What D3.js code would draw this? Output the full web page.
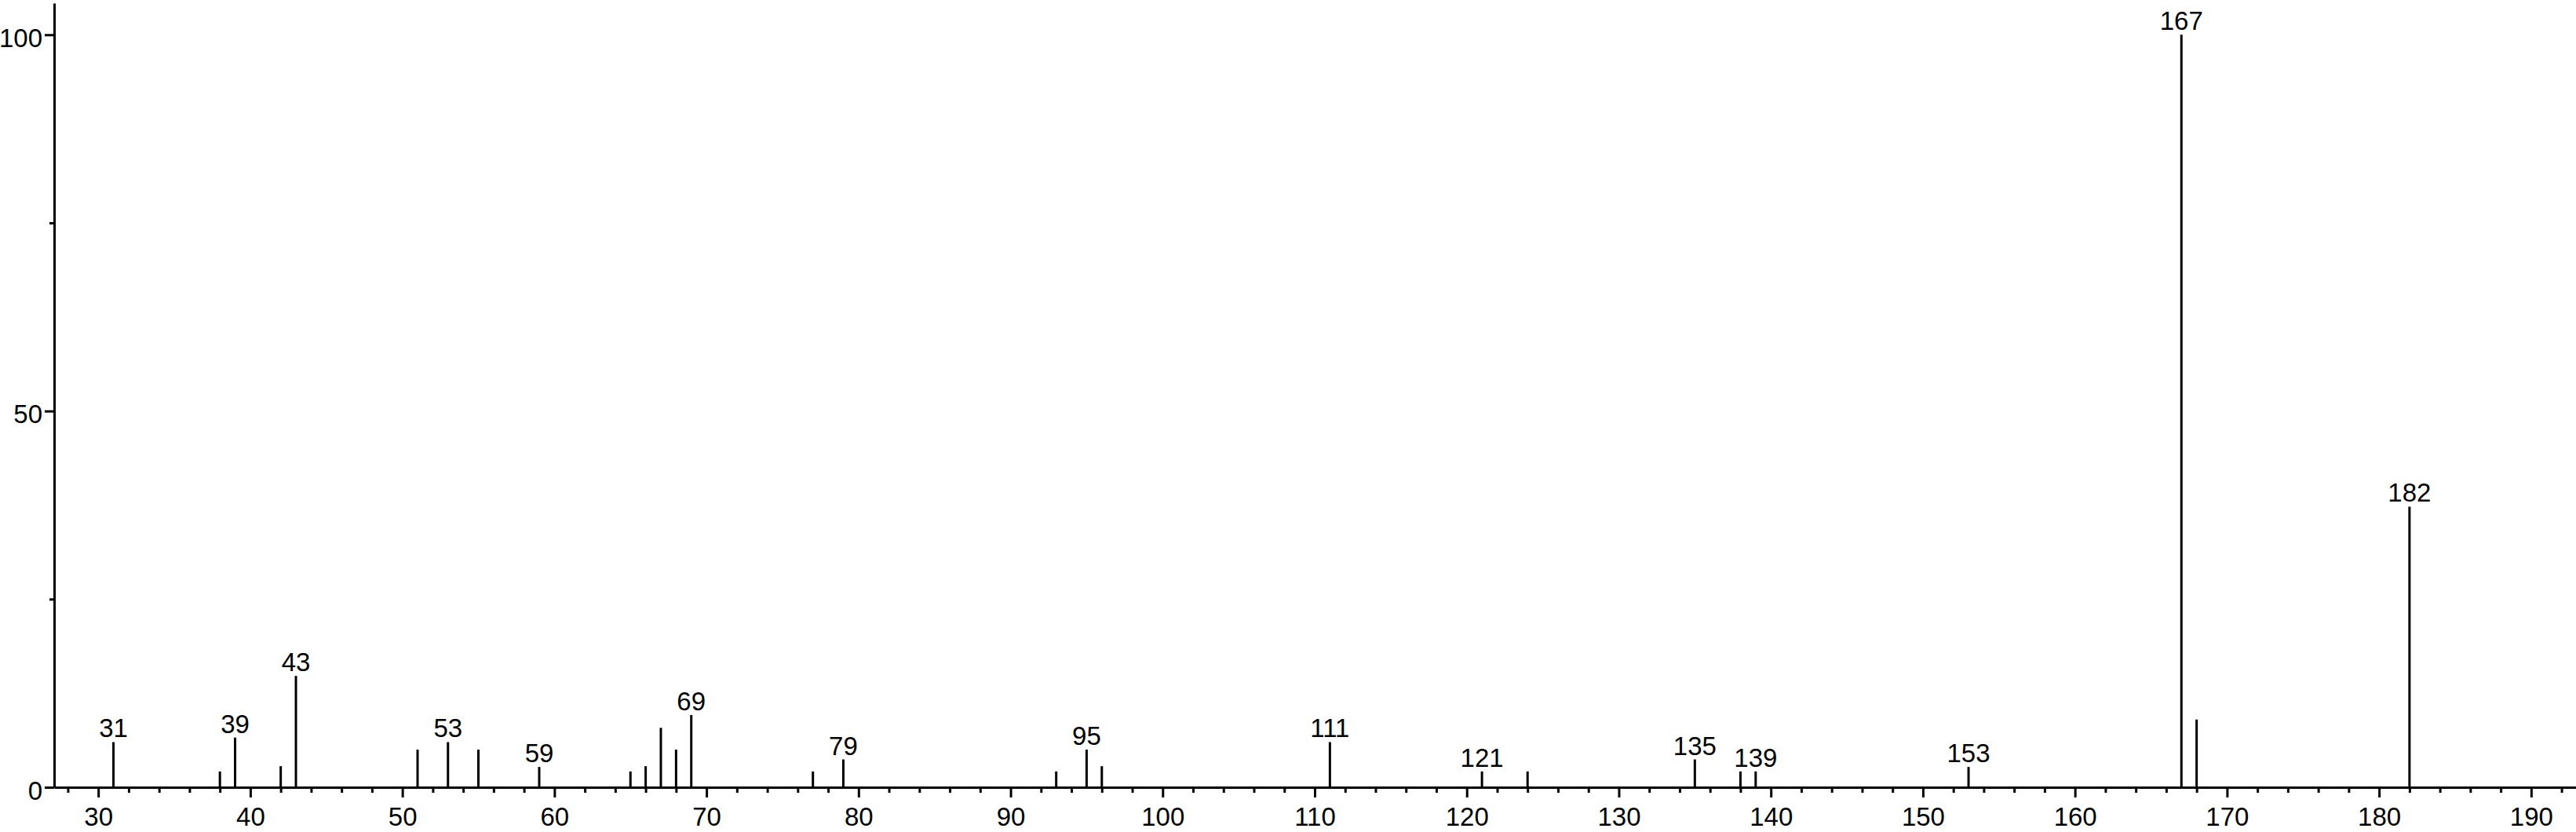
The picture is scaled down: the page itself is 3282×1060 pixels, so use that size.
<!DOCTYPE html>
<html>
<head>
<meta charset="utf-8">
<script src="https://cdn.jsdelivr.net/npm/d3@7"></script>
<style>
  body { margin: 0; background: #fff; }
  svg { display: block; font-family: "Liberation Sans", Arial, sans-serif; }
</style>
</head>
<body>
<svg width="3282" height="1060"></svg>
<script>
// m/z of each peak and its relative intensity (%)
const mz = [31, 38, 39, 42, 43, 51, 53, 55, 59, 65, 66, 67, 68, 69, 77, 79, 93, 95, 96,
            111, 121, 124, 135, 138, 139, 153, 167, 168, 182];
const intensity = [6.0, 2.1, 6.6, 2.8, 14.8, 5.0, 6.0, 5.0, 2.7, 2.1, 2.8, 7.9, 5.0, 9.6, 2.1, 3.7, 2.1, 5.0, 2.8,
                   6.0, 2.1, 2.1, 3.7, 2.1, 2.1, 2.7, 100, 9.0, 37.3];
const labeled = [31, 39, 43, 53, 59, 69, 79, 95, 111, 121, 135, 139, 153, 167, 182];

const xMajor = [30, 40, 50, 60, 70, 80, 90, 100, 110, 120, 130, 140, 150, 160, 170, 180, 190];
const yMajor = [0, 50, 100];
const yMinor = [25, 75];

const svg = d3.select("svg");
const fontSize = 33;

const x = d3.scaleLinear().domain([27.1, 192.95]).range([69, 3282]);
const y = d3.scaleLinear().domain([0, 104.2]).range([1003, 4]);

const peaks = mz.map((m, i) => ({ m: m, v: intensity[i] }));

// peaks
svg.append("g")
  .selectAll("line")
  .data(peaks)
  .join("line")
    .attr("x1", d => x(d.m))
    .attr("x2", d => x(d.m))
    .attr("y1", y(0))
    .attr("y2", d => y(d.v))
    .attr("stroke", "#000")
    .attr("stroke-width", 3);

// peak labels
svg.append("g")
  .selectAll("text")
  .data(peaks.filter(d => labeled.includes(d.m)))
  .join("text")
    .attr("x", d => x(d.m))
    .attr("y", d => y(d.v) - 6)
    .attr("text-anchor", "middle")
    .attr("font-size", fontSize)
    .text(d => d.m);

// x axis minor ticks
const xMinor = d3.range(28, 193, 2).filter(v => v % 10 !== 0);
svg.append("g")
  .attr("transform", `translate(0,${y(0)})`)
  .call(d3.axisBottom(x).tickValues(xMinor).tickSize(7).tickSizeOuter(0).tickFormat(""))
  .call(g => g.select(".domain").remove())
  .call(g => g.selectAll("line").attr("stroke-width", 3));

// x axis major
svg.append("g")
  .attr("transform", `translate(0,${y(0)})`)
  .call(d3.axisBottom(x).tickValues(xMajor).tickSize(13).tickPadding(13).tickSizeOuter(0))
  .call(g => g.select(".domain").attr("stroke-width", 3))
  .call(g => g.selectAll("line").attr("stroke-width", 3))
  .call(g => g.selectAll("text").attr("font-size", fontSize).attr("fill", "#000")
    .attr("font-family", "'Liberation Sans', Arial, sans-serif"));

// y axis minor
svg.append("g")
  .attr("transform", `translate(${x(27.1)},0)`)
  .call(d3.axisLeft(y).tickValues(yMinor).tickSize(6).tickSizeOuter(0).tickFormat(""))
  .call(g => g.select(".domain").remove())
  .call(g => g.selectAll("line").attr("stroke-width", 3));

// y axis major
svg.append("g")
  .attr("transform", `translate(${x(27.1)},0)`)
  .call(d3.axisLeft(y).tickValues(yMajor).tickSize(12).tickPadding(3).tickSizeOuter(0))
  .call(g => g.select(".domain").attr("stroke-width", 3))
  .call(g => g.selectAll("line").attr("stroke-width", 3))
  .call(g => g.selectAll("text").attr("font-size", fontSize).attr("fill", "#000").attr("dy", "15px")
    .attr("font-family", "'Liberation Sans', Arial, sans-serif"));
</script>
</body>
</html>
